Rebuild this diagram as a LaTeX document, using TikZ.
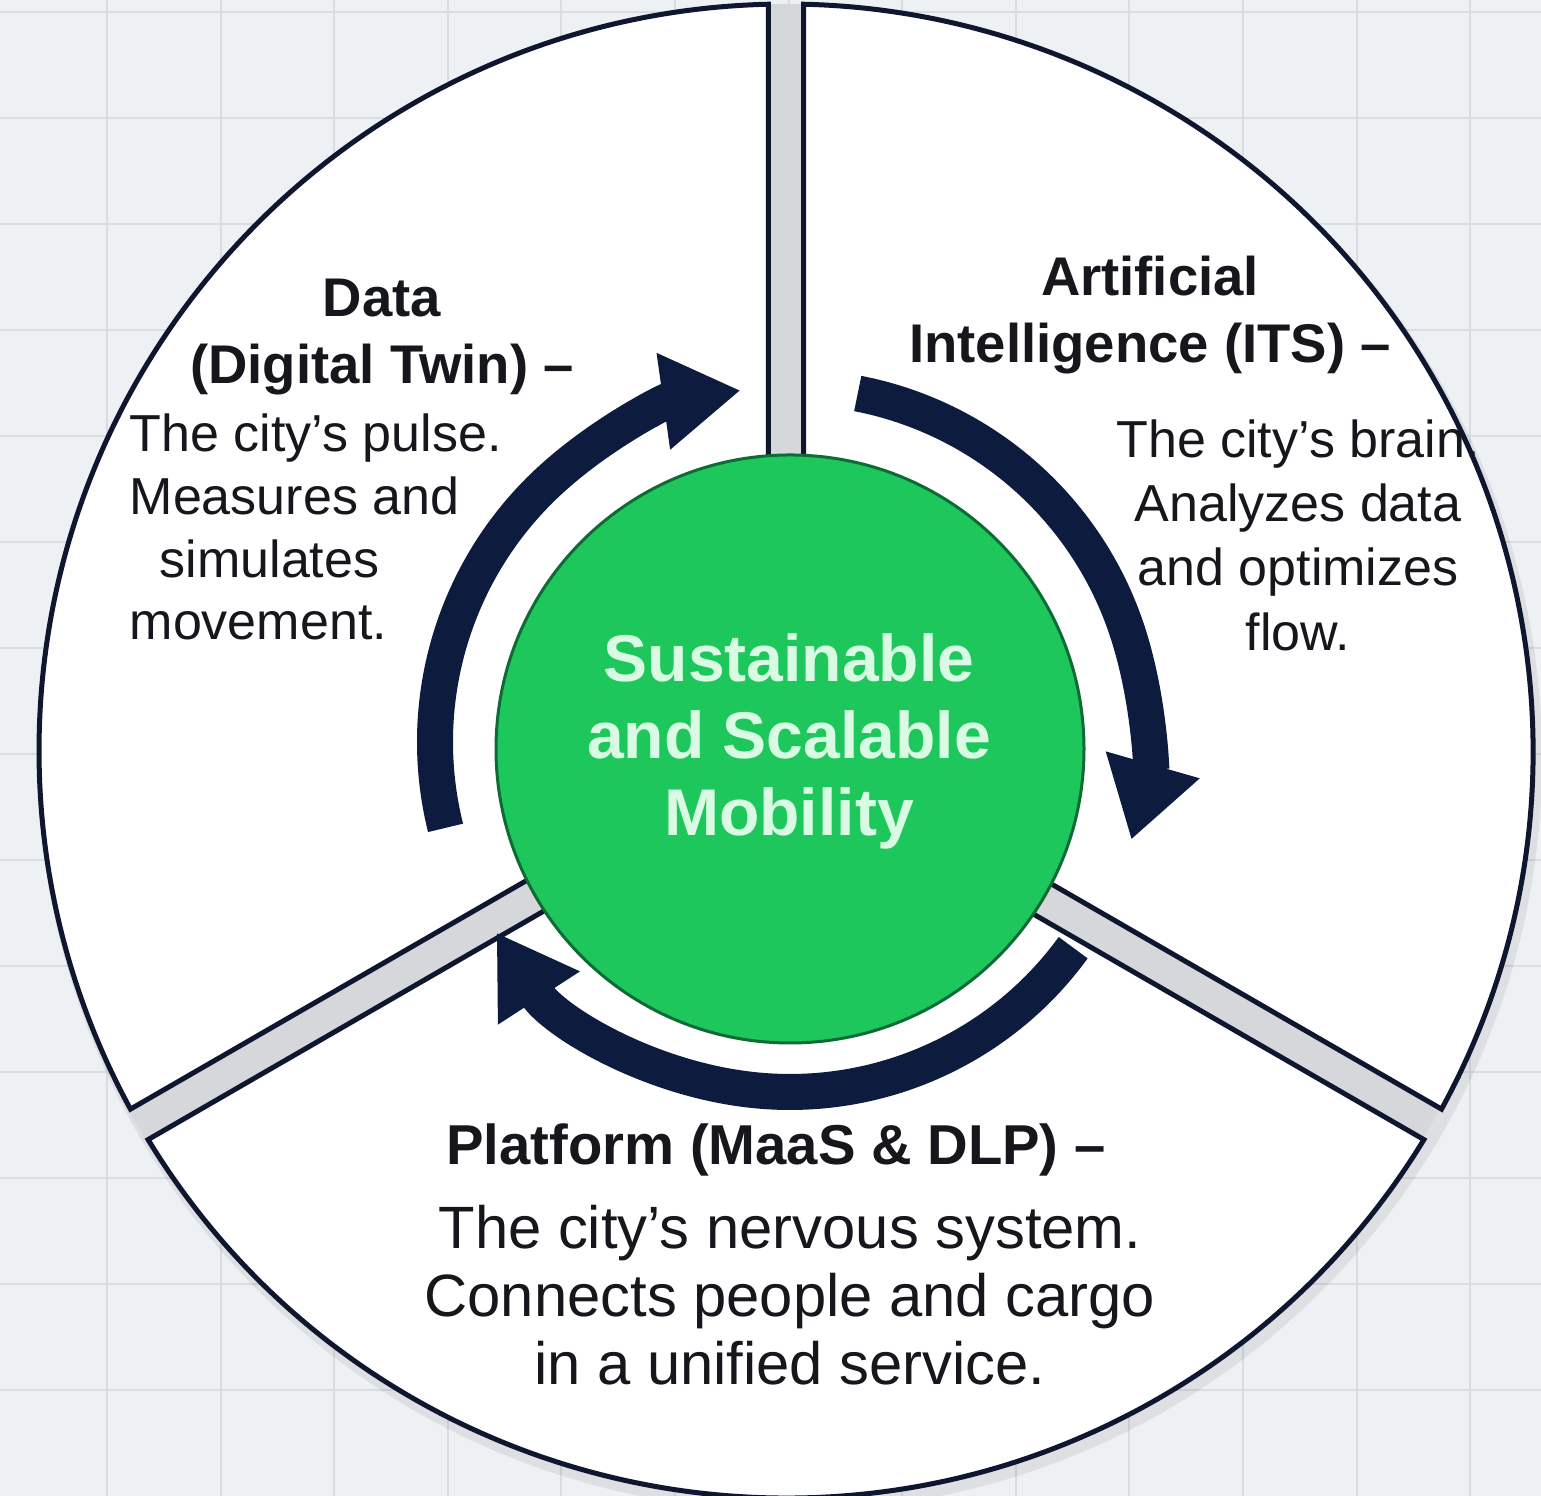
\documentclass[tikz,border=0pt]{standalone}
\usepackage{fontspec}
\setmainfont{Liberation Sans}
\usetikzlibrary{arrows.meta}
\definecolor{paper}{HTML}{EEF1F4}
\definecolor{gridc}{HTML}{D9DDE1}
\definecolor{gapc}{HTML}{D5D7DB}
\definecolor{ink}{HTML}{0E1630}
\definecolor{navy}{HTML}{0D1B3F}
\definecolor{txt}{HTML}{15171C}
\definecolor{hubgreen}{HTML}{1DC75B}
\definecolor{hubline}{HTML}{0F6B35}
\definecolor{mint}{HTML}{D9FBE3}

\begin{document}
\begin{tikzpicture}[
    sector/.style={fill=white,draw=ink,line width=0.05cm,line join=miter},
    hub/.style={circle,fill=hubgreen,draw=hubline,line width=0.03cm,minimum size=5.88cm},
    hubtext/.style={text=mint,align=center,inner sep=0pt,font=\bfseries\fontsize{18.8}{21.9}\selectfont},
    loop/.style={draw=navy,line width=0.36cm,-{Triangle[length=0.78cm,width=0.92cm]}},
    head/.style={font=\bfseries\fontsize{15.5}{19.3}\selectfont,text=txt,align=center,inner sep=0pt},
    body/.style={font=\fontsize{14.8}{17.9}\selectfont,text=txt,align=center,inner sep=0pt}
  ]
  \fill[paper] (0,0) rectangle (15.41,14.96);
  \useasboundingbox (0,0) rectangle (15.41,14.96);
  \foreach \k in {0,...,12}
    \draw[gridc,line width=0.02cm] ({1.07+1.136*\k},0) -- ({1.07+1.136*\k},14.96);
  \foreach \k in {0,...,13}
    \draw[gridc,line width=0.02cm] (0,{14.84-1.06*\k}) -- (15.41,{14.84-1.06*\k});

  % disk, gaps and the three sectors
  \fill[black,opacity=0.07] (7.90,7.37) circle (7.52);
  \fill[gapc] (7.84,7.45) circle (7.47);
  \foreach \a in {-30,90,210}
    \filldraw[sector,shift={(7.86,7.45)}] ({\a+60}:0.202) -- ({\a+1.35}:7.47)
      arc[start angle={\a+1.35},end angle={\a+118.65},radius=7.47] -- cycle;

  \node[hub] (hub) at (7.90,7.47) {};
  \node[hubtext] (hubtext) at (7.89,7.55) {Sustainable\\and Scalable\\Mobility};

  \coordinate (ring) at (7.90,7.54);
  \draw[loop] ([shift={(194:3.55)}]ring) arc[start angle=194,end angle=98,radius=3.55];
  \draw[loop] ([shift={(79:3.55)}]ring) arc[start angle=79,end angle=-16,radius=3.55];
  \draw[loop] ([shift={(-36:3.5)}]ring) arc[start angle=-36,end angle=-147,radius=3.5];

  \node[head] (datahead) at (3.82,11.59) {Data\\(Digital Twin) –};
  \node[body,align=left,anchor=west] (databody) at (1.29,9.69)
    {The city’s pulse.\\Measures and\\\hspace*{0.3cm}simulates\\movement.};
  \node[head] (aihead) at (11.50,11.81) {Artificial\\Intelligence (ITS) –};
  \node[body,font=\fontsize{14.8}{18.3}\selectfont] (aibody) at (12.98,9.61)
    {The city’s brain.\\Analyzes data\\and optimizes\\flow.};
  \node[head,font=\bfseries\fontsize{16}{19}\selectfont,anchor=base] (plathead) at (7.76,3.31)
    {Platform (MaaS \& DLP) –};
  \node[body,font=\fontsize{17}{19.3}\selectfont] (platbody) at (7.90,2.01)
    {The city’s nervous system.\\Connects people and cargo\\in a unified service.};
\end{tikzpicture}
\end{document}
